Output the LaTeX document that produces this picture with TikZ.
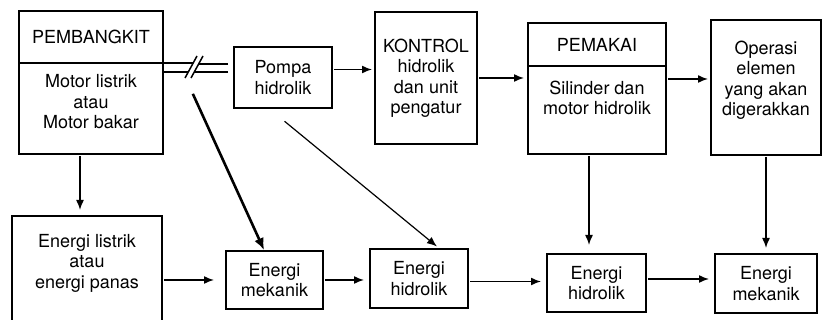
\documentclass[tikz,border=0pt]{standalone}
\usepackage{fontspec}
\setmainfont{TeX Gyre Heros}
\usetikzlibrary{arrows.meta,positioning}
\tikzset{
    box/.style = {
        draw,
        line width=1.6pt,
        inner sep=0pt,
        outer sep=0pt,
        align=center,
        font=\fontsize{18}{20.5}\selectfont,
        },
    txt/.style = {
        inner sep=0pt,
        align=center,
        font=\fontsize{18}{20.5}\selectfont,
        },
    flow/.style = {
        -{Latex[length=10pt,width=8pt]},
        line width=1.5pt,
        shorten >=6pt,
        shorten <=2pt,
        },
    shaft/.style = {
        line width=1.5pt,
        },
}
\begin{document}
\begin{tikzpicture}[x=1pt,y=-1pt]
    \useasboundingbox (0,0) rectangle (822,320);
    \clip (0,0) rectangle (822,320);

    % baris atas
    \node[box, minimum width=144, minimum height=52] (gen) at (91,37) {PEMBANGKIT};
    \node[box, minimum width=144, minimum height=91, below=0pt of gen] (genB) {};
    \node[txt] (genT) at (91,102) {Motor listrik\\atau\\Motor bakar};
    \node[box, minimum width=98, minimum height=61] (pump) at (283,77.5) {Pompa\\hidrolik};
    \node[box, minimum width=102, minimum height=132] (ctrl) at (426,78) {KONTROL\\hidrolik\\dan unit\\pengatur};
    \node[box, minimum width=138, minimum height=43] (use) at (597,44.5) {PEMAKAI};
    \node[box, minimum width=138, minimum height=88, below=0pt of use] (useB) {};
    \node[txt] (useT) at (597,98) {Silinder dan\\motor hidrolik};
    \node[box, minimum width=110, minimum height=135] (op) at (766,87.5) {};
    \node[txt] (opT) at (766,80) {Operasi\\elemen\\yang akan\\digerakkan};

    % baris bawah
    \node[box, minimum width=150, minimum height=124] (el) at (87,278) {};
    \node[txt] (elT) at (87,263) {Energi listrik\\atau\\energi panas};
    \node[box, minimum width=97, minimum height=58] (em1) at (274.5,280) {Energi\\mekanik};
    \node[box, minimum width=98, minimum height=59] (eh1) at (419,278.5) {Energi\\hidrolik};
    \node[box, minimum width=99, minimum height=58] (eh2) at (596.5,283) {Energi\\hidrolik};
    \node[box, minimum width=102, minimum height=59] (em2) at (766,283.5) {Energi\\mekanik};

    % poros
    \draw[shaft] (genB.north east) -- ++(29.6,0)
                 ([yshift=-9pt]genB.north east) -- ++(25.3,0);
    \draw[shaft] ([shift={(-6,-13.5)}]pump.west) -- ++(-29.4,0)
                 ([shift={(-6,-5.5)}]pump.west) -- ++(-33.7,0);
    \draw[shaft] (genB.north east) ++(22,15) -- ++(12,-22) ++(-6,22) -- ++(12,-22);
    \coordinate (poros) at (192,92);

    \draw[flow, shorten >=3pt] ([yshift=8pt]pump.east) -- ([yshift=8pt]pump.east -| ctrl.west);
    \draw[flow, shorten >=4pt] (ctrl.east) -- (ctrl.east -| useB.west);
    \draw[flow, shorten >=3pt] ([yshift=-13pt]useB.north east) -- ([yshift=-13pt]useB.north east -| op.west);

    \draw[flow] ([xshift=-11pt]genB.south) -- ([xshift=-11pt]genB.south |- el.north);
    \draw[flow, line width=2.6pt, -{Latex[length=12pt,width=10pt]}, shorten >=1pt] (poros) -- ([xshift=-10pt]em1.north);
    \draw[flow, line width=1.2pt, shorten >=4pt] ([yshift=-12pt]pump.south) -- ([xshift=21pt]eh1.north);
    \draw[flow, shorten >=9pt] ([xshift=-8pt]useB.south) -- ([xshift=-8pt]useB.south |- eh2.north);
    \draw[flow] (op.south) -- (em2.north);

    \draw[flow, shorten >=12pt] (em1.west -| el.east) -- (em1.west);
    \draw[flow] (em1.east) -- (eh1.west |- em1.east);
    \draw[flow] ([yshift=-3pt]eh1.east) -- ([yshift=-3pt]eh1.east -| eh2.west);
    \draw[flow] ([yshift=4pt]eh2.east) -- ([yshift=4pt]eh2.east -| em2.west);
\end{tikzpicture}
\end{document}
